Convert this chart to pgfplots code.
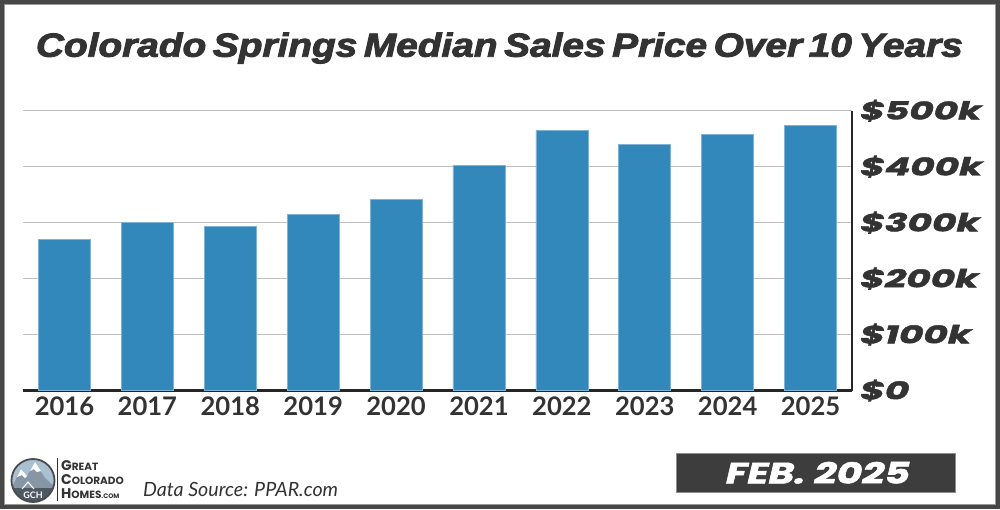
\documentclass[border=0pt]{standalone}
\usepackage{fontspec}
\setmainfont{Lato}
\newfontfamily\pop{Poppins}[FakeBold=1.6]
\newfontfamily\popl{Poppins}
\newfontfamily\lib{Liberation Sans}[FakeBold=2.6]
\usepackage{pgfplots}
\pgfplotsset{compat=1.18}
\definecolor{barc}{HTML}{3288BA}
\definecolor{baredge}{HTML}{7FB3D5}
\definecolor{framec}{HTML}{474747}
\definecolor{txt}{HTML}{333333}
\definecolor{gridc}{HTML}{BFBFBF}
\definecolor{boxc}{HTML}{3D3D3D}
\definecolor{skyc}{HTML}{A9C0D3}
\definecolor{mtnc}{HTML}{8796A5}
\definecolor{basec}{HTML}{4D5863}
\newcommand\ylab[1]{\scalebox{1.5}[1]{#1}}
\begin{document}
\begin{tikzpicture}[x=1pt,y=1pt]
\useasboundingbox (0,0) rectangle (1000,509);
\fill[framec] (0,0) rectangle (1000,509);
\fill[white] (4,4) rectangle (996,505);
\draw[black!40, line width=0.8pt] (4.4,4.4) rectangle (995.6,504.6);

\node[anchor=base, text=txt, inner sep=0] at (499.4,452.3)
  {\resizebox{926.7pt}{24.2pt}{\lib\bfseries\itshape\spaceskip=0.17em\relax Colorado Springs Median Sales Price Over 10 Years}};

\begin{axis}[
  at={(23pt,118.5pt)}, anchor=south west,
  scale only axis, width=829pt, height=279.8pt,
  xmin=-0.5, xmax=9.5, ymin=0, ymax=500000,
  ybar, bar width=52pt,
  axis x line*=bottom, axis y line*=right,
  x axis line style={-, line width=2.2pt, color=black!85},
  y axis line style={-, line width=2.2pt, color=black!85},
  ymajorgrids, grid style={gridc, line width=1.5pt},
  major tick length=0pt,
  scaled y ticks=false,
  ytick={0,100000,200000,300000,400000,500000},
  yticklabels={\ylab{\$0},\ylab{\$100k},\ylab{\$200k},\ylab{\$300k},\ylab{\$400k},\ylab{\$500k}},
  yticklabel pos=right,
  yticklabel style={font=\pop\bfseries\itshape\fontsize{25}{25}\selectfont, text=txt, anchor=west, inner sep=0pt, xshift=8pt},
  xtick={0,1,2,3,4,5,6,7,8,9},
  xticklabels={2016,2017,2018,2019,2020,2021,2022,2023,2024,2025},
  xticklabel style={font=\bfseries\fontsize{25.6}{25.6}\selectfont, text=txt, anchor=north, inner sep=0pt, yshift=-6pt},
  clip=false,
]
\addplot[fill=barc, draw=baredge, line width=0.6pt] coordinates {
  (0,270000) (1,300000) (2,293000) (3,315000) (4,341000)
  (5,402000) (6,465000) (7,440000) (8,457000) (9,474000)};
\end{axis}

% logo
\begin{scope}
  \clip (33,28.5) circle (21.5);
  \fill[skyc] (10,6) rectangle (56,52);
  \fill[mtnc] (10,18) -- (21,40) -- (27,33) -- (35,47) -- (45,31) -- (56,21) -- (56,6) -- (10,6) -- cycle;
  \fill[white] (21,40) -- (17,32) -- (22,34) -- (25,31) -- (27,33) -- cycle;
  \fill[white] (35,47) -- (30,38) -- (34,40) -- (37,37) -- (41,38) -- cycle;
  \fill[basec] (10,6) rectangle (56,21);
  \draw[white, line width=1pt] (22,20) -- (28,27) -- (34,20);
  \node[text=white, inner sep=0, font=\bfseries\fontsize{9}{9}\selectfont] at (33,13.5) {GCH};
\end{scope}
\draw[black!70, line width=1.8pt] (33,28.5) circle (21.5);
\draw[txt, line width=1.5pt] (57.5,51) -- (57.5,8);
\node[anchor=base west, inner sep=0, text=txt, font=\popl\bfseries] at (61,39)
  {\fontsize{14}{14}\selectfont G\fontsize{10.5}{14}\selectfont REAT};
\node[anchor=base west, inner sep=0, text=txt, font=\popl\bfseries] at (61,24.6)
  {\fontsize{14}{14}\selectfont C\fontsize{10.5}{14}\selectfont OLORADO};
\node[anchor=base west, inner sep=0, text=txt, font=\popl\bfseries] at (61,10.2)
  {\fontsize{14}{14}\selectfont H\fontsize{10.5}{14}\selectfont OMES\fontsize{6.5}{14}\selectfont.COM};

\node[anchor=base west, inner sep=0, text=txt] at (143,12.3) {\itshape\fontsize{19.6}{19.6}\selectfont Data Source: PPAR.com};

% date box
\draw[fill=boxc, draw=black!45, line width=0.6pt] (676,16.7) rectangle (955,55.7);
\node[inner sep=0, text=white, anchor=base] at (818,25.5) {\resizebox{184pt}{21.6pt}{\pop\bfseries\itshape FEB. 2025}};
\end{tikzpicture}
\end{document}
